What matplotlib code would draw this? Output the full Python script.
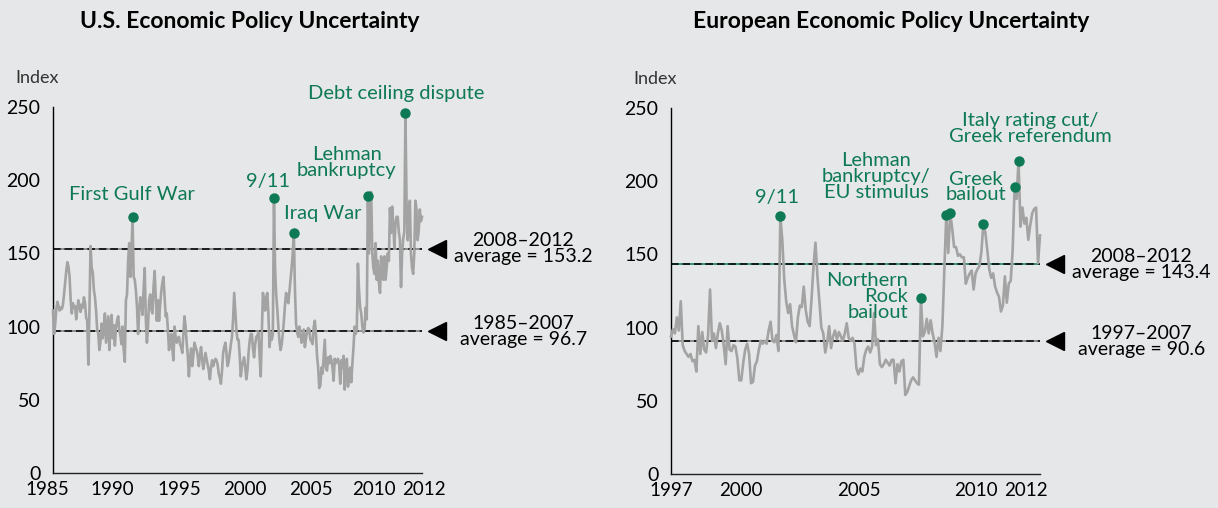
import numpy as np
import matplotlib.pyplot as plt
import matplotlib.transforms as mtransforms

plt.rcParams['font.family'] = ['Lato', 'DejaVu Sans']

# monthly index values
us_start = 1985
us_values = [
    111, 95, 102, 112, 117, 114, 111, 113, 112, 115, 122, 130,   # 1985
    138, 144, 141, 134, 118, 109, 116, 113, 114, 105, 112, 118,  # 1986
    114, 110, 115, 113, 120, 116, 106, 104, 74, 112, 155, 140,   # 1987
    137, 125, 120, 111, 98, 95, 84, 90, 102, 92, 100, 109,       # 1988
    89, 98, 107, 84, 100, 108, 92, 101, 87, 99, 104, 107,        # 1989
    98, 94, 88, 100, 84, 76, 118, 122, 145, 157, 134, 150,       # 1990
    175, 134, 132, 125, 114, 95, 110, 120, 118, 108, 125, 140,   # 1991
    106, 89, 100, 118, 122, 112, 109, 127, 138, 120, 104, 118,   # 1992
    104, 115, 124, 130, 134, 120, 107, 109, 98, 84, 90, 95,      # 1993
    85, 77, 100, 93, 89, 92, 93, 88, 86, 82, 95, 107,            # 1994
    100, 89, 80, 66, 78, 85, 73, 80, 89, 86, 84, 80,             # 1995
    73, 80, 86, 78, 71, 76, 82, 78, 74, 70, 64, 72,              # 1996
    77, 73, 76, 78, 77, 74, 68, 65, 61, 70, 82, 86,              # 1997
    89, 82, 73, 76, 82, 88, 93, 105, 123, 110, 98, 91,           # 1998
    91, 80, 66, 73, 76, 79, 72, 64, 70, 82, 90, 95,              # 1999
    95, 85, 79, 88, 93, 94, 96, 80, 66, 95, 123, 118,            # 2000
    111, 120, 123, 108, 86, 96, 91, 95, 188, 140, 122, 112,      # 2001
    100, 90, 84, 88, 95, 104, 115, 123, 118, 116, 124, 132,      # 2002
    140, 150, 164, 125, 102, 96, 93, 100, 95, 89, 92, 98,        # 2003
    86, 92, 96, 99, 98, 91, 90, 88, 100, 104, 95, 80,            # 2004
    72, 58, 60, 72, 68, 80, 91, 72, 70, 79, 75, 80,              # 2005
    77, 72, 63, 78, 75, 77, 78, 74, 61, 77, 72, 80,              # 2006
    57, 72, 78, 59, 66, 72, 62, 75, 86, 100, 95, 98,             # 2007
    143, 125, 113, 109, 100, 96, 98, 113, 105, 189, 150, 170,    # 2008
    192, 150, 140, 136, 157, 132, 145, 130, 123, 148, 135, 132,  # 2009
    148, 132, 140, 150, 145, 181, 164, 182, 170, 154, 170, 175,  # 2010
    175, 165, 159, 127, 150, 160, 165, 246, 185, 159, 170, 186,  # 2011
    150, 140, 136, 150, 186, 180, 159, 165, 180, 172, 175,       # 2012
]

eu_start = 1997
eu_values = [
    94, 99, 96, 107, 98, 118, 88, 84, 82, 80, 82, 77,            # 1997
    78, 70, 101, 82, 97, 85, 83, 95, 126, 91, 96, 86,            # 1998
    96, 103, 98, 88, 75, 101, 85, 84, 88, 87, 79, 64,            # 1999
    64, 76, 85, 89, 82, 62, 63, 74, 77, 85, 91, 89,              # 2000
    91, 89, 98, 104, 91, 90, 95, 84, 176, 160, 133, 118,         # 2001
    110, 116, 101, 95, 90, 107, 115, 114, 128, 112, 104, 101,    # 2002
    120, 142, 158, 135, 118, 100, 96, 83, 90, 101, 86, 94,       # 2003
    98, 92, 97, 94, 91, 96, 103, 93, 91, 93, 89, 72,             # 2004
    68, 72, 70, 80, 85, 87, 83, 87, 110, 88, 92, 75,             # 2005
    73, 75, 78, 76, 74, 78, 78, 62, 75, 70, 77, 78,              # 2006
    54, 56, 60, 64, 66, 64, 62, 61, 120, 94, 97, 106,            # 2007
    96, 105, 96, 90, 80, 93, 84, 101, 140, 177, 151, 178,        # 2008
    168, 155, 155, 149, 150, 148, 148, 130, 134, 137, 139, 126,  # 2009
    137, 140, 142, 152, 171, 165, 153, 140, 134, 137, 128, 124,  # 2010
    121, 111, 115, 135, 117, 130, 132, 153, 196, 188, 214, 169,  # 2011
    182, 171, 175, 160, 170, 178, 181, 182, 144, 163,            # 2012
]

# events: (label, year, month)
us_events = [("First Gulf War", 1991, 1), ("9/11", 2001, 9), ("Iraq War", 2003, 3),
             ("Lehman\nbankruptcy", 2008, 10), ("Debt ceiling dispute", 2011, 8)]
eu_events = [("9/11", 2001, 9), ("Northern\nRock\nbailout", 2007, 9),
             ("Lehman\nbankruptcy/\nEU stimulus", 2008, 10), ("", 2008, 12),
             ("Greek\nbailout", 2010, 5), ("", 2011, 9),
             ("Italy rating cut/\nGreek referendum", 2011, 11)]

us_avgs = [153.2, 96.7]
us_avg_periods = ["2008–2012", "1985–2007"]
eu_avgs = [143.4, 90.6]
eu_avg_periods = ["2008–2012", "1997–2007"]

us_xticks = [1985, 1990, 1995, 2000, 2005, 2010, 2012]
eu_xticks = [1997, 2000, 2005, 2010, 2012]

# layout: label placement (year, value, alignment) and tick label pixel offsets
us_label_pos = [(1990.95, 190, 'center'), (2001.2, 199, 'center'), (2005.35, 177.5, 'center'),
                (2007.15, 212, 'center'), (2010.9, 259.5, 'center')]
eu_label_pos = [(2001.53, 189, 'center'), (2007.13, 121, 'right'), (2005.76, 203, 'center'),
                None, (2010.03, 196, 'center'), None, (2012.34, 236, 'center')]
us_tick_shift = [-6, -7, -6, -7, -7, -11, 13]
eu_tick_shift = [0, 0, 0, 0, 3]

bg = '#e6e7e8'
green = '#0e7a55'
grey = '#a3a3a3'

fig = plt.figure(figsize=(12.18, 5.08), dpi=100, facecolor=bg)
ax1 = fig.add_axes([53 / 1218, 35 / 508, 369 / 1218, 366 / 508])
ax2 = fig.add_axes([671 / 1218, 34 / 508, 369 / 1218, 366 / 508])


def draw_panel(ax, start, values, events, label_pos, avgs, periods, avg_colors, xticks,
               tick_shift, title, title_x):
    ax.set_facecolor(bg)
    x = start + np.arange(len(values)) / 12.0
    ax.plot(x, values, color=grey, lw=1.9, zorder=3, clip_on=False)
    ax.set_xlim(start, x[-1])
    ax.set_ylim(0, 250)

    for (lab, yr, mo), pos in zip(events, label_pos):
        i = (yr - start) * 12 + mo - 1
        ax.plot(x[i], values[i], 'o', color=green, ms=6.5, zorder=5, clip_on=False)
        if pos is not None and lab:
            ax.text(pos[0], pos[1], lab, color=green, fontsize=14.5, ha=pos[2], va='center',
                    linespacing=0.92, zorder=6, clip_on=False)

    tr = ax.get_yaxis_transform()
    for v, per, c in zip(avgs, periods, avg_colors):
        ax.axhline(v, color=c, lw=1.1, zorder=2)
        ax.axhline(v, color='black', lw=1.1, dashes=(5, 2.5), zorder=2)
        ax.plot([1.04], [v], marker='<', color='black', ms=13, transform=tr, clip_on=False)
        ax.text(1.275, v, per + "\naverage = " + format(v, '.1f'), transform=tr, ha='center',
                va='center', fontsize=14, linespacing=0.92)

    for s in ['top', 'right']:
        ax.spines[s].set_visible(False)
    ax.spines['left'].set_linewidth(1.0)
    ax.spines['bottom'].set_linewidth(1.0)
    ax.spines['bottom'].set_color('#222222')
    ax.set_yticks([0, 50, 100, 150, 200, 250])
    ax.set_xticks(xticks)
    ax.set_xticklabels([str(t) for t in xticks])
    ax.tick_params(length=0, labelsize=13.5, pad=6)
    ax.tick_params(axis='y', labelsize=14, pad=9)
    for lab, dx in zip(ax.get_xticklabels(), tick_shift):
        lab.set_transform(lab.get_transform() +
                          mtransforms.ScaledTranslation(dx / 100, 0, fig.dpi_scale_trans))
    ax.text(-0.103, 1.079, "Index", transform=ax.transAxes, fontsize=13, color='#333333',
            ha='left', va='center')
    fig.text(title_x / 1218, 1 - 22 / 508, title, fontsize=16.5, fontweight='bold',
             ha='center', va='center')


draw_panel(ax1, us_start, us_values, us_events, us_label_pos, us_avgs, us_avg_periods,
           ['#777777', '#777777'], us_xticks, us_tick_shift,
           "U.S. Economic Policy Uncertainty", 250)
draw_panel(ax2, eu_start, eu_values, eu_events, eu_label_pos, eu_avgs, eu_avg_periods,
           [green, '#777777'], eu_xticks, eu_tick_shift,
           "European Economic Policy Uncertainty", 891)

fig.savefig('out.png', dpi=100, facecolor=bg)
